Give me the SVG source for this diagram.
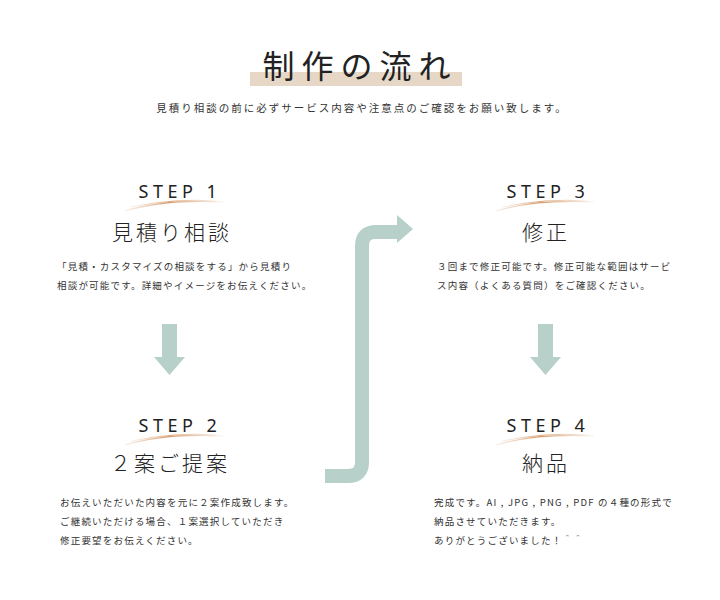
<svg xmlns="http://www.w3.org/2000/svg" width="720" height="600" viewBox="0 0 720 600">
<defs>
<linearGradient id="sw" x1="0" y1="0" x2="1" y2="0">
<stop offset="0" stop-color="#e2b48e" stop-opacity="0.2"/>
<stop offset="0.45" stop-color="#d59a6c" stop-opacity="1"/>
<stop offset="1" stop-color="#e2b48e" stop-opacity="0.15"/>
</linearGradient>
<g id="swoosh">
<path d="M0 12 Q40 0 98 3" fill="none" stroke="url(#sw)" stroke-width="1.2"/>
<path d="M6 8 Q50 -1 92 2" fill="none" stroke="url(#sw)" stroke-width="0.9"/>
</g>
</defs>
<style>
.jp{font-family:"Noto Sans CJK JP","Noto Sans",sans-serif;}
.title{font-size:32px;fill:#222;letter-spacing:7px;font-weight:400;}
.sub{font-size:10.5px;fill:#333;letter-spacing:2px;}
.step{font-family:"Noto Sans","Lato",sans-serif;font-size:18px;fill:#222;letter-spacing:4.5px;}
.head{font-size:21px;fill:#222;letter-spacing:3px;font-weight:300;}
.body{font-size:9.5px;fill:#333;letter-spacing:1.2px;}
.arr{fill:#b7d0c9;}
</style>
<rect width="720" height="600" fill="#ffffff"/>
<g id="title">
<rect x="250" y="72" width="212" height="14" fill="#e7d7c7"/>
<text class="jp title" x="360" y="78" text-anchor="middle">制作の流れ</text>
<text class="jp sub" x="362" y="112" text-anchor="middle">見積り相談の前に必ずサービス内容や注意点のご確認をお願い致します。</text>
</g>
<g id="step1">
<text class="step" x="180" y="198" text-anchor="middle">STEP 1</text>
<use href="#swoosh" x="125" y="199"/>
<text class="jp head" x="172" y="240" text-anchor="middle">見積り相談</text>
<text class="jp body" x="57" y="270">「見積・カスタマイズの相談をする」から見積り</text>
<text class="jp body" x="57" y="289">相談が可能です。詳細やイメージをお伝えください。</text>
</g>
<g id="step2">
<text class="step" x="180" y="432" text-anchor="middle">STEP 2</text>
<use href="#swoosh" x="125" y="433"/>
<text class="jp head" x="170" y="471" text-anchor="middle">２案ご提案</text>
<text class="jp body" x="60" y="506">お伝えいただいた内容を元に２案作成致します。</text>
<text class="jp body" x="60" y="525">ご継続いただける場合、１案選択していただき</text>
<text class="jp body" x="60" y="544">修正要望をお伝えください。</text>
</g>
<g id="step3">
<text class="step" x="548" y="198" text-anchor="middle">STEP 3</text>
<use href="#swoosh" x="496" y="199"/>
<text class="jp head" x="546" y="240" text-anchor="middle">修正</text>
<text class="jp body" x="437" y="270">３回まで修正可能です。修正可能な範囲はサービ</text>
<text class="jp body" x="437" y="289">ス内容（よくある質問）をご確認ください。</text>
</g>
<g id="step4">
<text class="step" x="548" y="432" text-anchor="middle">STEP 4</text>
<use href="#swoosh" x="496" y="433"/>
<text class="jp head" x="546" y="471" text-anchor="middle">納品</text>
<text class="jp body" x="434" y="506">完成です。AI , JPG , PNG , PDF の４種の形式で</text>
<text class="jp body" x="434" y="525">納品させていただきます。</text>
<text class="jp body" x="434" y="544">ありがとうございました！＾＾</text>
</g>
<g id="connectors">
<polygon class="arr" points="162,324 177,324 177,357 185,357 169.5,375 154,357 162,357"/>
<polygon class="arr" points="538,324 553,324 553,357 561,357 545.5,375 530,357 538,357"/>
<path d="M325 476 H348 Q362 476 362 462 V246 Q362 232 376 232 H398" fill="none" stroke="#b7d0c9" stroke-width="14"/>
<polygon class="arr" points="397,215 413,229 397,243"/>
</g>
</svg>
